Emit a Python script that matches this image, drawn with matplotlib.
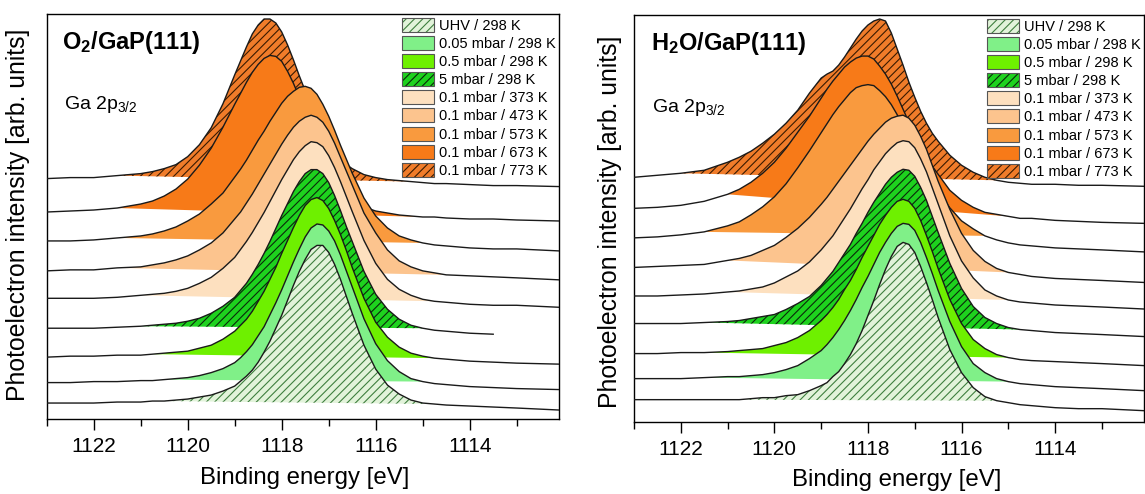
import numpy as np
import matplotlib
matplotlib.use("Agg")
import matplotlib.pyplot as plt
from matplotlib.patches import Patch
from matplotlib.ticker import MultipleLocator

plt.rcParams['font.family'] = ['Liberation Sans', 'DejaVu Sans']
plt.rcParams['mathtext.fontset'] = 'custom'
plt.rcParams['mathtext.rm'] = 'Liberation Sans'
plt.rcParams['mathtext.bf'] = 'Liberation Sans:bold'
plt.rcParams['mathtext.it'] = 'Liberation Sans:italic'
plt.rcParams['hatch.linewidth'] = 0.8

# ---------------- data ----------------
energy = [1123.0, 1122.5, 1122.0, 1121.5, 1121.0, 1120.75, 1120.5, 1120.25, 1120.0,
          1119.75, 1119.5, 1119.25, 1119.0,
          1118.875, 1118.75, 1118.625, 1118.5, 1118.375, 1118.25, 1118.125,
          1118.0, 1117.875, 1117.75, 1117.625, 1117.5, 1117.375, 1117.25,
          1117.125, 1117.0, 1116.875, 1116.75, 1116.625, 1116.5,
          1116.25, 1116.0, 1115.75, 1115.5, 1115.25, 1115.0, 1114.75, 1114.5,
          1114.0, 1113.5, 1113.0, 1112.1]

labels = ["UHV / 298 K", "0.05 mbar / 298 K", "0.5 mbar / 298 K", "5 mbar / 298 K",
          "0.1 mbar / 373 K", "0.1 mbar / 473 K", "0.1 mbar / 573 K",
          "0.1 mbar / 673 K", "0.1 mbar / 773 K"]

# stacking offsets (arb. units), bottom to top
o2_offsets = [11, 31.5, 57, 85, 114, 141.5, 170.5, 200.5, 235]
h2o_offsets = [15, 35, 60, 89, 116.5, 143, 172.5, 201, 240]

# energy range of the shaded area of each spectrum (high BE end, low BE end)
o2_fill_hi = [1120.5, 1120.5, 1120.75, 1121.0, 1121.0, 1121.5, 1121.5, 1121.5, 1121.5]
o2_fill_lo = [1114.75, 1115.0, 1114.75, 1115.0, 1114.75, 1114.5, 1115.0, 1115.0, 1115.25]
h2o_fill_hi = [1121.0, 1121.5, 1121.5, 1121.5, 1121.0, 1121.0, 1121.5, 1121.0, 1122.0]
h2o_fill_lo = [1115.25, 1115.0, 1115.0, 1114.75, 1115.0, 1115.0, 1115.5, 1115.0, 1115.25]

# O2 / GaP(111) spectra (intensity above offset)
o2_uhv = [5, 5, 5, 6, 6, 7, 7, 8, 9,
          11, 13, 17, 22,
          27, 32, 38, 46, 56, 67, 80,
          93, 108, 123, 137, 149, 159, 163,
          163, 156, 144, 129, 112, 95,
          63, 39, 23, 14, 8, 5, 4, 3, 2, 1, 0, -2]
o2_005 = [5, 5, 6, 6, 7, 7, 8, 9, 10,
          12, 15, 19, 25,
          30, 36, 43, 52, 61, 73, 85,
          98, 112, 126, 139, 151, 160, 164,
          163, 157, 147, 133, 117, 101,
          69, 44, 27, 16, 9, 6, 4, 3, 1, 0, -1, -2]
o2_05 = [5, 6, 6, 7, 7, 8, 9, 10, 11,
         14, 17, 23, 31,
         37, 43, 51, 61, 71, 83, 95,
         109, 122, 135, 147, 157, 163, 165,
         162, 154, 142, 128, 112, 95,
         64, 40, 25, 15, 9, 6, 4, 3, 1, 0, -1, -2]
o2_5 = [6, 6, 6, 7, 8, 9, 10, 11, 13,
        16, 21, 28, 37,
        44, 51, 60, 70, 81, 93, 106,
        119, 131, 143, 153, 161, 165, 165,
        161, 152, 139, 124, 108, 93,
        63, 40, 25, 15, 9, 6, 4, 3, 1, 0, np.nan, np.nan]
o2_373 = [7, 7, 7, 8, 10, 11, 12, 14, 17,
          22, 28, 37, 48,
          56, 64, 73, 83, 93, 104, 115,
          126, 136, 146, 154, 160, 164, 163,
          159, 150, 138, 124, 109, 94,
          65, 42, 26, 16, 10, 6, 4, 3, 1, 0, 0, -2]
o2_473 = [7, 8, 8, 10, 11, 13, 15, 18, 22,
          28, 35, 45, 59,
          66, 75, 84, 94, 104, 114, 124,
          134, 143, 151, 157, 161, 163, 161,
          156, 147, 135, 121, 107, 93,
          65, 45, 28, 17, 11, 7, 5, 3, 2, 1, 0, -2]
o2_573 = [8, 8, 9, 11, 13, 15, 18, 22, 28,
          35, 45, 56, 72,
          80, 89, 99, 109, 118, 128, 137,
          146, 153, 158, 162, 163, 161, 155,
          145, 133, 119, 104, 90, 76,
          51, 33, 21, 13, 9, 6, 4, 3, 1, 0, 0, -2]
o2_673 = [7, 8, 9, 11, 15, 18, 23, 30, 40,
          54, 71, 92, 115,
          126, 137, 147, 155, 161, 164, 163,
          158, 148, 136, 122, 106, 91, 76,
          63, 51, 41, 33, 26, 20,
          12, 8, 6, 4, 3, 2, 2, 1, 0, 0, -1, -2]
o2_773 = [6, 7, 7, 9, 11, 13, 16, 20, 28,
          40, 57, 81, 110,
          124, 138, 151, 160, 166, 166, 162,
          153, 140, 125, 109, 94, 78, 64,
          52, 41, 33, 26, 20, 16,
          10, 7, 5, 4, 3, 2, 1, 1, 0, -1, -1, -2]

# H2O / GaP(111) spectra (intensity above offset)
h2o_uhv = [7, 7, 7, 7, 7, 7, 8, 9, 9,
           11, 12, 16, 21,
           24, 30, 35, 43, 52, 63, 76,
           91, 106, 122, 137, 150, 160, 164,
           162, 154, 140, 124, 107, 89,
           57, 34, 19, 10, 6, 4, 2, 1, -1, -2, -2, -4]
h2o_005 = [8, 8, 8, 9, 10, 10, 11, 12, 14,
           17, 21, 28, 36,
           42, 49, 57, 66, 76, 87, 99,
           110, 122, 134, 144, 153, 160, 163,
           162, 156, 144, 129, 113, 96,
           65, 40, 23, 14, 8, 5, 3, 2, 0, -1, -2, -4]
h2o_05 = [8, 8, 9, 9, 10, 11, 12, 13, 16,
          19, 24, 31, 41,
          47, 54, 62, 72, 81, 92, 104,
          115, 126, 137, 146, 154, 160, 162,
          160, 153, 141, 126, 110, 93,
          62, 38, 22, 13, 7, 4, 2, 1, 0, -1, -2, -4]
h2o_5 = [9, 9, 9, 10, 11, 12, 14, 16, 18,
         23, 29, 36, 47,
         54, 61, 70, 79, 88, 99, 109,
         120, 130, 139, 148, 155, 160, 163,
         162, 156, 145, 132, 116, 100,
         69, 44, 26, 15, 9, 5, 3, 2, 0, -1, -2, -4]
h2o_373 = [9, 9, 10, 11, 13, 14, 16, 18, 22,
           28, 34, 43, 55,
           62, 69, 78, 87, 96, 106, 116,
           125, 135, 143, 151, 157, 162, 164,
           163, 157, 146, 133, 117, 101,
           69, 44, 27, 15, 9, 5, 3, 2, 0, -1, -2, -4]
h2o_473 = [11, 12, 13, 14, 18, 20, 23, 28, 33,
           41, 50, 61, 74,
           81, 89, 97, 105, 113, 121, 129,
           137, 144, 150, 156, 160, 162, 163,
           160, 153, 142, 129, 113, 97,
           69, 45, 28, 17, 10, 6, 4, 2, 0, -1, -2, -4]
h2o_573 = [11, 12, 14, 17, 23, 27, 34, 42, 52,
           65, 81, 98, 116,
           125, 134, 142, 149, 156, 161, 163,
           164, 163, 158, 152, 144, 134, 123,
           111, 100, 88, 77, 66, 57,
           41, 28, 20, 13, 9, 6, 4, 3, 1, 0, -1, -3]
h2o_673 = [12, 13, 15, 19, 26, 31, 38, 47, 58,
           72, 88, 104, 122,
           131, 139, 146, 153, 158, 162, 164,
           164, 161, 154, 146, 136, 124, 111,
           98, 87, 75, 63, 54, 46,
           30, 20, 13, 8, 6, 4, 2, 2, 0, -1, -2, -3]
h2o_773 = [4, 6, 8, 11, 19, 24, 30, 38, 47,
           58, 71, 88, 103,
           107, 110, 116, 124, 133, 142, 150,
           156, 160, 162, 160, 148, 132, 116,
           99, 84, 70, 58, 48, 40,
           26, 16, 9, 4, 1, -1, -2, -3, -3, -4, -4, -5]

o2_series = [o2_uhv, o2_005, o2_05, o2_5, o2_373, o2_473, o2_573, o2_673, o2_773]
h2o_series = [h2o_uhv, h2o_005, h2o_05, h2o_5, h2o_373, h2o_473, h2o_573, h2o_673, h2o_773]

# ---------------- styles ----------------
face_colors = ['#e2f3da', '#80f088', '#6ef000', '#1ed21e', '#fde0bf',
               '#fcc48e', '#f99a3e', '#f77a18', '#f07c2a']
hatches = ['////', None, None, '////', None, None, None, None, '////']
hatch_colors = ['#3f7f3f', None, None, '#0a2a0a', None, None, None, None, '#3a1a00']
line_color = '#1a1a1a'

fig = plt.figure(figsize=(11.45, 4.94), dpi=100)
ax1 = fig.add_axes([46.7 / 1145, 1 - 419 / 494, (559 - 46.7) / 1145, (419 - 14) / 494])
ax2 = fig.add_axes([634 / 1145, 1 - 421.7 / 494, (1144 - 634) / 1145, (421.7 - 15) / 494])

E = np.array(energy)


def draw(ax, offsets, series, fill_hi, fill_lo):
    n = len(series)
    for i, (off, sig) in enumerate(zip(offsets, series)):
        y = off + np.array(sig, dtype=float)
        z = 2 * (n - i)
        sel = (E <= fill_hi[i]) & (E >= fill_lo[i])
        xs, ys = E[sel], y[sel]
        # straight floor joining the two ends of the shaded range
        floor = np.interp(xs, [xs[-1], xs[0]], [ys[-1], ys[0]])
        kw = dict(facecolor=face_colors[i], linewidth=0, zorder=z)
        if hatches[i]:
            kw.update(edgecolor=hatch_colors[i], hatch=hatches[i])
        else:
            kw.update(edgecolor='none')
        ax.fill_between(xs, ys, floor, **kw)
        ax.plot(E, y, color=line_color, lw=1.0, zorder=z + 1)


def legend(ax):
    handles = []
    for i in range(len(labels)):
        if hatches[i]:
            base = Patch(facecolor=face_colors[i], edgecolor=hatch_colors[i],
                         hatch=hatches[i], linewidth=0)
        else:
            base = Patch(facecolor=face_colors[i], edgecolor='none', linewidth=0)
        frame = Patch(facecolor='none', edgecolor='#555555', linewidth=0.8)
        handles.append((base, frame))
    leg = ax.legend(handles, labels, loc='upper right', bbox_to_anchor=(1.0, 1.0),
                    borderaxespad=0.0, frameon=False, fontsize=10.5,
                    handlelength=2.2, handleheight=1.1, handletextpad=0.3,
                    labelspacing=0.22, borderpad=0.25)
    leg.set_zorder(50)


for ax, offs, ser, fhi, flo in [(ax1, o2_offsets, o2_series, o2_fill_hi, o2_fill_lo),
                               (ax2, h2o_offsets, h2o_series, h2o_fill_hi, h2o_fill_lo)]:
    draw(ax, offs, ser, fhi, flo)
    legend(ax)
    ax.set_xlim(1123, 1112.1)
    ax.set_ylim(0, 406)
    ax.set_yticks([])
    ax.xaxis.set_major_locator(MultipleLocator(2))
    ax.xaxis.set_minor_locator(MultipleLocator(1))
    ax.tick_params(axis='x', which='major', direction='out', length=8, width=1.0,
                   labelsize=15, pad=5)
    ax.tick_params(axis='x', which='minor', direction='out', length=5, width=1.0)
    for sp in ax.spines.values():
        sp.set_linewidth(1.0)

ax1.text((62 - 46.7) / (559 - 46.7), 1 - (43 - 14) / 405,
         r"O$_\mathbf{2}$/GaP(111)", transform=ax1.transAxes, fontsize=17,
         fontweight='bold', va='center', ha='left', zorder=60)
ax1.text((64 - 46.7) / (559 - 46.7), 1 - (105 - 14) / 405, r"Ga 2p$_{3/2}$",
         transform=ax1.transAxes, fontsize=14, va='center', ha='left', zorder=60)
ax2.text((651 - 634) / 510, 1 - (43 - 15) / 406.7, r"H$_\mathbf{2}$O/GaP(111)",
         transform=ax2.transAxes, fontsize=17, fontweight='bold', va='center',
         ha='left', zorder=60)
ax2.text((652 - 634) / 510, 1 - (107 - 15) / 406.7, r"Ga 2p$_{3/2}$",
         transform=ax2.transAxes, fontsize=14, va='center', ha='left', zorder=60)

ylab = "Photoelectron intensity [arb. units]"
fig.text(18 / 1145, 1 - 215 / 494, ylab, rotation=90, fontsize=17.8,
         ha='center', va='center')
fig.text(610 / 1145, 1 - 222 / 494, ylab, rotation=90, fontsize=17.8,
         ha='center', va='center')
fig.text(305 / 1145, 1 - 478 / 494, "Binding energy [eV]", fontsize=17.3,
         ha='center', va='center')
fig.text(897 / 1145, 1 - 480 / 494, "Binding energy [eV]", fontsize=17.3,
         ha='center', va='center')

fig.savefig("out.png", dpi=100)
